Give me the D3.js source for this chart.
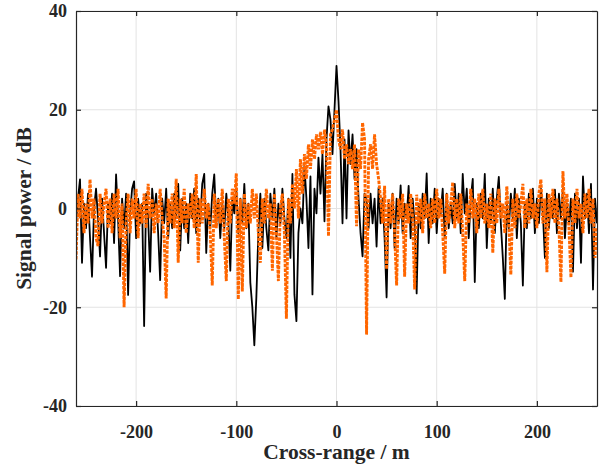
<!DOCTYPE html>
<html>
<head>
<meta charset="utf-8">
<script src="https://cdn.jsdelivr.net/npm/d3@7"></script>
<style>
  body { margin: 0; background: #fff; }
  svg text { font-family: "Liberation Serif", "Times New Roman", serif; font-weight: bold; fill: #262626; }
</style>
</head>
<body>
<svg id="chart"></svg>
<script>
// cross-range samples, every 2 m from -260 to 260
const crossRange = d3.range(-260, 261, 2);

// black solid trace (dB)
const powerA = [
  -3, 2, 5.9, -11, 1, -4, 3, -6, -13.8, 0,
  4, -2, -9.7, 2, -5, -12, 1, -3, 3, -7,
  6.9, -2, -13.7, 2, -4, 3, -17.5, -1, 4, 5.5,
  -6, 2, -3, 1, -23.8, 3, -2, -12.8, 4, -1,
  3, -5, -14.5, 2, -3, 4, -6, 1, -4, 3,
  -2, 5, -8.5, 2, -4, 1, -7, 3, -2, 4,
  -5, 2, -3, 5, 7, -9, 1, -4, 3, 6.9,
  -3, 2, -6, 1, -4, 3, -2, -12.6, 2, -1,
  4, -5, 2, -3, 5, -4, 1, -15, -20, -27.7,
  -18, -5, 3, -8, 2, -4, -8.5, 3, -2, 4,
  -6, 1, -3, 4, -2, -6, 2, -10, 7, -17.4,
  -22.8, -5, 0, -3, 8.6, 2, -8, 6.5, -17.4, 4,
  -1, 10.3, 3, 11, -2.6, 14, 20.7, 18, 11, 20,
  28.9, 21.7, 12, -3, 14, -2, 15.8, 9, 15, 6,
  12, 2, -5, -9.7, 3, 1.8, -4, 3, -3, 2,
  -7.7, 4.2, -3, 2, -6, -18, 1, -4, 3, -8,
  2, -3, 4.7, -5, 1, -2, 4.6, -6, 2, -3,
  -17.2, 1, -4, 3, -2, 7.1, -7, 2, -3, 4,
  -5, 2, -1, 4, -6, 3, -4, 1, -3, 5,
  -2, 3, -5, 7, -1, 4, -6, 2, 6, -14.9,
  1, -4, 3, -2, 7, -8, 2, -3, 4, -5,
  2, 6.4, -3, -10, -18.3, 1, -4, 3, -2, 4,
  -6, 2, -3, -15.6, 1, -4, 3, -2, 4, -5,
  2, -3, 4, -1, -10, 3, -4, 2, -2, 3.8,
  -5, 3, -2, 4, -6, 1, -3, 2, -12.8, 3,
  -4, 2, -11, 6.5, -2, 3, -5, 5, -16.4, 2,
  -3
];

// orange dotted trace (dB)
const powerB = [
  -10.3, 3, -2, 4, -5, 1, -3, 5.9, -2, 2,
  -6, -7.6, 3, -3, 1, 4, -4, 2, -5, 3,
  -2, 4, -6, 1, -20, -3, 3, -5, 2, -2,
  4, -6, 1, -3, 3, -4, 5, -2, 2, -5,
  1, -3, 4, -2, -6, -18.2, 2, -3, 3, -4,
  6, -11, 2, -3, 4, -5, 1, -2, 3, -4,
  7, -11, 2, -3, 4, -2, 1, -5, -15.6, 3,
  -4, 2, -3, 4, -6, -14.7, 2, -3, 4, 1,
  7.1, -18.4, 2, -16.8, 3, -4, 1, -3, 4, -2,
  3, -5, -11, 2, -3, 4, -2, 1, -12.6, 3,
  -5, -14.7, 0, 3, -5, -22.3, 2, -3, 5, 0,
  8, -2, 10, 3, 11, 6, 13, 8, 14, 10,
  15, 12, 15.5, 11, 16, 13, -5.6, 15, 16, 18,
  20, 14, 12, 16, 10, 13, 9, 12, 8, 13,
  -3.6, 12, 8, 17.4, 14, -25.5, 10, 13, 8, 15,
  9, 6, 2, -3, 4.6, -12.3, 2, -3, 3, -5,
  -15.6, 2, -2, 3, -13.8, 1, -3, 3, -2, -16.4,
  2.8, -3, 2, -5, 3, -2, 1, -4, 2, -3,
  4, -2, 2, -5, -13.2, 3, -3, 1, 5.3, -4,
  2, -3, 3, -5, -14.7, 1, -3, 4, -2, 2,
  -5, 3, -2, 4, -3, 1, -4, 3, -9, 2,
  -3, 4, -2, 1, -5, 4.5, -3, -13.4, 2, -4,
  3, -2, 1, 5, -4, 2, -3, 4, -2, 1,
  -4, 3, 5.9, -3, 2, -12.9, 3, -2, 4, -3,
  2, -4, -14.9, 7.6, -2, 3, -4, -14, 2, -3,
  4, -2, 1, -5, 3, -2, 4, -3, 2, -10,
  -4
];

const xTicks = [-200, -100, 0, 100, 200];
const yTicks = [-40, -20, 0, 20, 40];

const width = 600, height = 466;
const margin = {top: 11, right: 3, bottom: 60, left: 76};
const innerW = width - margin.left - margin.right;
const innerH = height - margin.top - margin.bottom;

const svg = d3.select('#chart')
  .attr('width', width)
  .attr('height', height);

const chart = svg.append('g')
  .attr('transform', `translate(${margin.left}, ${margin.top})`);

const xScale = d3.scaleLinear().domain([-260, 260]).range([0, innerW]);
const yScale = d3.scaleLinear().domain([-40, 40]).range([innerH, 0]);

// grid lines
chart.append('g')
  .selectAll('line')
  .data(xTicks)
  .join('line')
    .attr('x1', d => xScale(d)).attr('x2', d => xScale(d))
    .attr('y1', 0).attr('y2', innerH)
    .attr('stroke', '#e3e3e3').attr('stroke-width', 1);

chart.append('g')
  .selectAll('line')
  .data(yTicks)
  .join('line')
    .attr('x1', 0).attr('x2', innerW)
    .attr('y1', d => yScale(d)).attr('y2', d => yScale(d))
    .attr('stroke', '#e3e3e3').attr('stroke-width', 1);

chart.append('clipPath').attr('id', 'plotclip')
  .append('rect').attr('width', innerW).attr('height', innerH);

const line = d3.line()
  .x((d, i) => xScale(crossRange[i]))
  .y(d => yScale(d));

const plot = chart.append('g').attr('clip-path', 'url(#plotclip)');

plot.append('path')
  .datum(powerA)
  .attr('d', line)
  .attr('fill', 'none')
  .attr('stroke', '#000')
  .attr('stroke-width', 1.8)
  .attr('stroke-linejoin', 'round');

plot.append('path')
  .datum(powerB)
  .attr('d', line)
  .attr('fill', 'none')
  .attr('stroke', '#ff6600')
  .attr('stroke-width', 2.9)
  .attr('stroke-dasharray', '3.5,1.2');

// axes, ticks inward, plain hyphen for negatives
const fmt = d => String(d);
const axisStyle = g => {
  g.select('.domain').attr('stroke', '#262626').attr('stroke-width', 1.2);
  g.selectAll('.tick line').attr('stroke', '#262626').attr('stroke-width', 1.2);
  g.selectAll('text')
    .attr('font-size', 18)
    .attr('font-family', '"Liberation Serif", serif')
    .attr('font-weight', 'bold')
    .attr('fill', '#262626');
};

chart.append('g')
  .attr('transform', `translate(0, ${innerH})`)
  .call(d3.axisBottom(xScale).tickValues(xTicks).tickFormat(fmt).tickSizeInner(-5).tickSizeOuter(0).tickPadding(19))
  .call(axisStyle);

chart.append('g')
  .call(d3.axisTop(xScale).tickValues(xTicks).tickSizeInner(-5).tickSizeOuter(0).tickFormat(''))
  .call(axisStyle);

chart.append('g')
  .call(d3.axisLeft(yScale).tickValues(yTicks).tickFormat(fmt).tickSizeInner(-5).tickSizeOuter(0).tickPadding(9))
  .call(axisStyle);

chart.append('g')
  .attr('transform', `translate(${innerW}, 0)`)
  .call(d3.axisRight(yScale).tickValues(yTicks).tickSizeInner(-5).tickSizeOuter(0).tickFormat(''))
  .call(axisStyle);

// axis titles
svg.append('text')
  .attr('x', margin.left + xScale(0))
  .attr('y', 459)
  .attr('text-anchor', 'middle')
  .attr('font-size', 21.5)
  .text('Cross-range / m');

svg.append('text')
  .attr('transform', `translate(31, ${margin.top + yScale(0)}) rotate(-90)`)
  .attr('text-anchor', 'middle')
  .attr('font-size', 21.5)
  .text('Signal power / dB');
</script>
</body>
</html>
